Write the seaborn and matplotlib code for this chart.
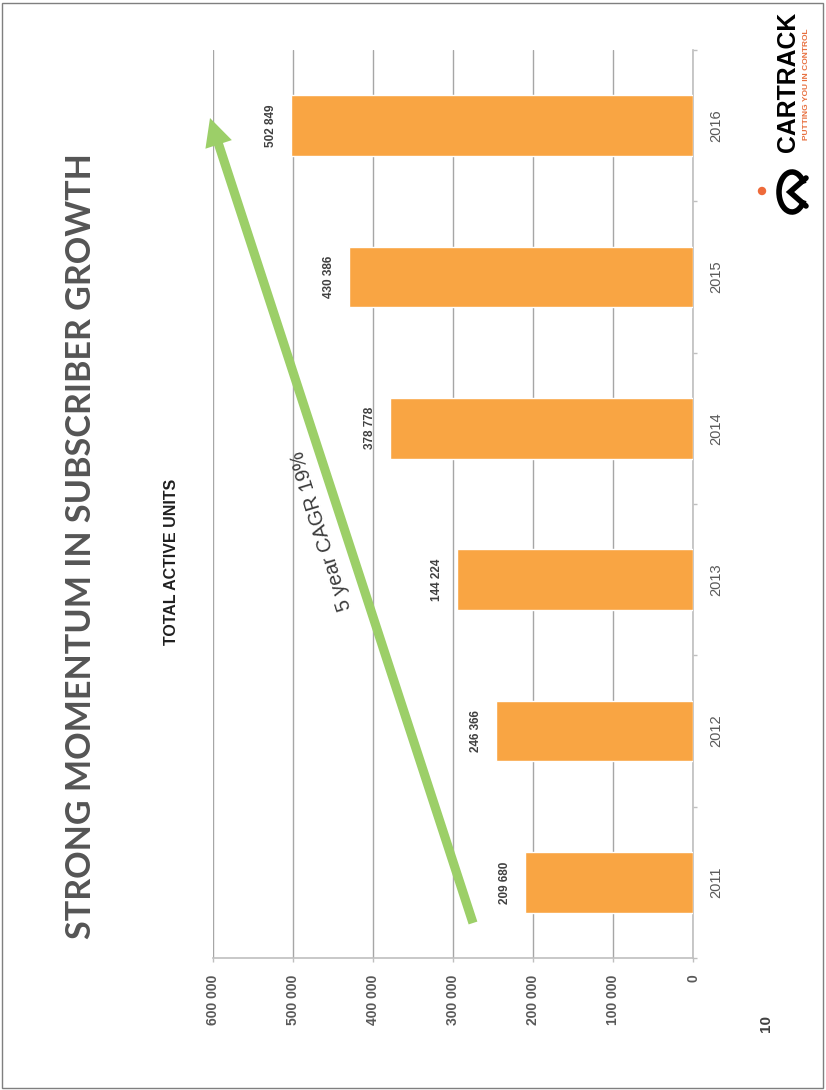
import numpy as np
import pandas as pd
import matplotlib
matplotlib.use("Agg")
import matplotlib.pyplot as plt
import seaborn as sns
from matplotlib.patches import Arc, Rectangle, Circle
from matplotlib.lines import Line2D

# ---- data ----
years = ["2011", "2012", "2013", "2014", "2015", "2016"]
bar_values = [209680, 246366, 295000, 378778, 430386, 502849]
bar_labels = ["209 680", "246 366", "144 224", "378 778", "430 386", "502 849"]
value_ticks = [0, 100000, 200000, 300000, 400000, 500000, 600000]
value_tick_labels = ["0", "100 000", "200 000", "300 000", "400 000", "500 000", "600 000"]

title = "STRONG MOMENTUM IN SUBSCRIBER GROWTH"
subtitle = "TOTAL ACTIVE UNITS"
arrow_text = "5 year CAGR 19%"

sns.set_theme(style="white")
plt.rcParams["font.family"] = ["Liberation Sans", "DejaVu Sans"]

W, H = 826, 1090
fig = plt.figure(figsize=(W / 100, H / 100), dpi=100)
fig.patch.set_facecolor("white")
ax = fig.add_axes([213 / W, (H - 958) / H, 480 / W, 908 / H])

df = pd.DataFrame({"year": years, "units": bar_values})
order = years[::-1]
sns.barplot(data=df, x="units", y="year", order=order, orient="h",
            color="#F9A543", saturation=1, width=0.4, ax=ax, zorder=3)

ax.set_xlim(600000, 0)
ax.set_ylim(5.5, -0.5)
ax.set_xlabel("")
ax.set_ylabel("")

ax.set_xticks(value_ticks)
ax.set_xticklabels(value_tick_labels, rotation=90, fontweight="bold",
                   fontsize=10, color="#595959")
ax.tick_params(axis="x", bottom=True, length=3, width=1, color="#bfbfbf", pad=9)
ax.grid(axis="x", color="#a6a6a6", lw=1)
ax.grid(axis="y", visible=False)
ax.set_axisbelow(True)

ax.yaxis.tick_right()
ax.set_yticks(range(len(order)))
ax.set_yticklabels(order, rotation=90, va="center", fontsize=10.5, color="#595959")
ax.tick_params(axis="y", which="major", right=True, left=False, length=0, pad=12)
ax.set_yticks(np.arange(-0.5, len(order), 1), minor=True)
ax.tick_params(axis="y", which="minor", right=True, left=False, length=3,
               color="#bfbfbf", width=1)

for s in ["top", "left"]:
    ax.spines[s].set_visible(False)
for s in ["right", "bottom"]:
    ax.spines[s].set_color("#bfbfbf")
    ax.spines[s].set_linewidth(1.2)

lab_map = dict(zip(years, bar_labels))
ax.bar_label(ax.containers[0], labels=[lab_map[y] for y in order], padding=10,
             rotation=90, fontsize=8.5, fontweight="bold", color="#404040")

# growth arrow
tail = ((473 - 213) / 480, (958 - 923) / 908)
tip = ((210 - 213) / 480, (958 - 118) / 908)
ax.annotate("", xy=tip, xytext=tail, xycoords="axes fraction",
            textcoords="axes fraction",
            arrowprops=dict(arrowstyle="simple,head_length=1.0,head_width=1.0,tail_width=0.33",
                            fc="#9ccf68", ec="none", mutation_scale=20,
                            shrinkA=0, shrinkB=0),
            annotation_clip=False, zorder=4)
ax.text((321.5 - 213) / 480, (958 - 531) / 908, arrow_text, transform=ax.transAxes,
        rotation=107, rotation_mode="anchor", ha="center", va="center",
        fontsize=14.5, color="#3a3a3a", zorder=5)

# titles
t = fig.text(81.5 / W, 1 - 546 / H, title, rotation=90, ha="center", va="center",
             family=["Lato", "DejaVu Sans"], fontweight="bold",
             color="#555555", fontsize=24)
fig.text(171 / W, 1 - 562 / H, subtitle, rotation=90, ha="center", va="center",
         fontweight="bold", fontsize=11.5, color="#1f1f1f")

# logo
c = fig.text(788 / W, 1 - 82 / H, "CARTRACK", rotation=90, ha="center", va="center",
             fontweight="bold", fontsize=18, color="black")
fig.text(807 / W, 1 - 84 / H, "PUTTING YOU IN CONTROL", rotation=90, ha="center",
         va="center", fontweight="bold", fontsize=6, color="#e8703f")
fig.add_artist(Circle((762, H - 191), 3.5, transform=None, color="#ee6a3a"))
fig.add_artist(Arc((792, H - 192), 26, 40, theta1=35, theta2=325, lw=4,
                   color="black", transform=None))
fig.add_artist(Line2D([806, 790, 806], [H - 178, H - 192, H - 206], lw=4,
                      color="black", transform=None, solid_joinstyle="miter"))

# page number
fig.text(766 / W, 1 - 1024 / H, "10", rotation=90, ha="center", va="center",
         fontweight="bold", fontsize=11, color="#404040")

# frame
fig.add_artist(Rectangle((0.002, 0.002), 0.994, 0.995, transform=fig.transFigure,
                         fill=False, ec="#7f7f7f", lw=1))

# fit long texts to their measured lengths
fig.canvas.draw()
r = fig.canvas.get_renderer()
bb = t.get_window_extent(r)
t.set_fontsize(24 * 787 / bb.height)
bb = c.get_window_extent(r)
c.set_fontsize(18 * 140 / bb.height)

fig.savefig("out.png", dpi=100)
